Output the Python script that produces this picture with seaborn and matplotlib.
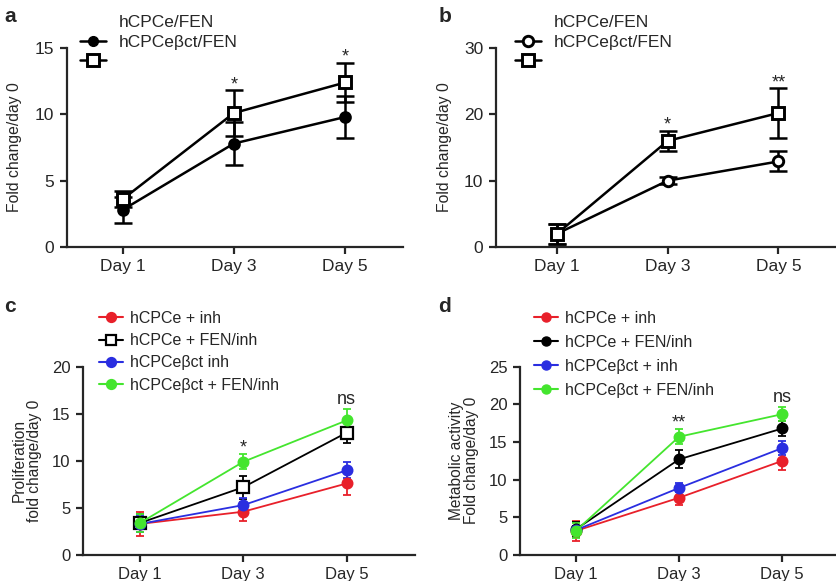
import matplotlib
matplotlib.use("Agg")
import matplotlib.pyplot as plt
from matplotlib.lines import Line2D
import seaborn as sns
import pandas as pd

sns.set_style("ticks")
plt.rcParams["font.family"] = ["Liberation Sans", "DejaVu Sans"]

days = ["Day 1", "Day 3", "Day 5"]

# painel a
a_e_mean = [2.8, 7.8, 9.8]
a_e_err = [1.0, 1.6, 1.55]
a_b_mean = [3.6, 10.1, 12.4]
a_b_err = [0.6, 1.7, 1.5]
a_stars = ["", "*", "*"]

# painel b
b_e_mean = [2.0, 10.0, 12.9]
b_e_err = [1.5, 0.5, 1.5]
b_b_mean = [2.0, 16.0, 20.2]
b_b_err = [1.5, 1.5, 3.7]
b_stars = ["", "*", "**"]

# painel c (proliferação)
c_labels = ["hCPCe + inh", "hCPCe + FEN/inh", "hCPCe\u03b2ct inh", "hCPCe\u03b2ct + FEN/inh"]
c_mean = [[3.3, 4.6, 7.6], [3.4, 7.2, 13.0], [3.3, 5.3, 9.0], [3.4, 9.9, 14.3]]
c_err = [[1.3, 1.0, 1.2], [1.0, 1.2, 1.1], [0.9, 0.8, 0.85], [1.0, 0.8, 1.2]]
c_stars = ["", "*", "ns"]

# painel d (atividade metabólica)
d_labels = ["hCPCe + inh", "hCPCe + FEN/inh", "hCPCe\u03b2ct + inh", "hCPCe\u03b2ct + FEN/inh"]
d_mean = [[3.2, 7.6, 12.5], [3.4, 12.7, 16.8], [3.3, 8.9, 14.2], [3.2, 15.7, 18.7]]
d_err = [[1.3, 1.0, 1.2], [1.0, 1.2, 1.0], [0.6, 0.6, 0.9], [1.0, 1.0, 0.9]]
d_stars = ["", "**", "ns"]

RED, BLUE, GREEN = "#e8202a", "#2a2ee0", "#44e52e"

fig = plt.figure(figsize=(8.37, 5.81), dpi=100)
W, H = 837, 581


def add_ax(l, r, top, bot):
    return fig.add_axes([l / W, 1 - bot / H, (r - l) / W, (bot - top) / H])


def style(ax, ylim, yticks, xlim, fs=12.5):
    ax.set_xlim(*xlim)
    ax.set_ylim(*ylim)
    ax.set_yticks(yticks)
    ax.set_xticks(range(len(days)))
    ax.set_xticklabels(days)
    sns.despine(ax=ax)
    for s in ["left", "bottom"]:
        ax.spines[s].set_linewidth(1.6)
    ax.tick_params(width=1.6, length=5, labelsize=fs, pad=4)
    ax.set_xlabel("")


def draw(ax, means, errs, labels, colors, markers, mfc, ms, lw, cap):
    for m, e, lab, col, mk, fc, s in zip(means, errs, labels, colors, markers, mfc, ms):
        df = pd.DataFrame({"x": range(len(days)), "y": m})
        ax.errorbar(df["x"], df["y"], yerr=e, fmt="none", ecolor=col,
                    elinewidth=lw, capsize=cap, capthick=lw, zorder=2)
        sns.lineplot(data=df, x="x", y="y", ax=ax, color=col, lw=lw, marker=mk,
                     markersize=s, markerfacecolor=fc, markeredgecolor=col,
                     markeredgewidth=lw + 0.3, zorder=3, label=lab)
    if ax.get_legend():
        ax.get_legend().remove()
    ax.set_ylabel("")


def stars(ax, means, errs, texts, fs=13):
    for i, t in enumerate(texts):
        if not t:
            continue
        top = max(m[i] + e[i] for m, e in zip(means, errs))
        off = 1 if "*" in t else 4
        ax.annotate(t, (i, top), xytext=(0, off), textcoords="offset points",
                    ha="center", va="baseline", fontsize=fs)


# a
ax = add_ax(67, 403, 48, 247)
draw(ax, [a_e_mean, a_b_mean], [a_e_err, a_b_err], ["e", "b"], ["black", "black"],
     ["o", "s"], ["black", "white"], [7, 8.5], 1.8, 6.5)
style(ax, (0, 15), [0, 5, 10, 15], (-0.5, 2.52))
ax.set_ylabel("Fold change/day 0", fontsize=11.3, labelpad=9)
stars(ax, [a_e_mean, a_b_mean], [a_e_err, a_b_err], a_stars)
ha = [Line2D([], [], ls="none"),
      Line2D([], [], color="black", lw=1.8, marker="o", ms=7),
      Line2D([], [], color="black", lw=1.8, marker="s", ms=8.5, mfc="white", mew=2.1)]
ax.legend(ha, ["hCPCe/FEN", "hCPCe\u03b2ct/FEN", ""], loc="upper left",
          bbox_to_anchor=(80 / W, 1 - 15 / H), bbox_transform=fig.transFigure,
          frameon=False, fontsize=12.5, handlelength=1.5, handletextpad=0.75,
          labelspacing=0.25, borderpad=0, borderaxespad=0)

# b
ax = add_ax(496, 835, 48, 247)
draw(ax, [b_e_mean, b_b_mean], [b_e_err, b_b_err], ["e", "b"], ["black", "black"],
     ["o", "s"], ["white", "white"], [7.5, 8.5], 1.8, 6.5)
style(ax, (0, 30), [0, 10, 20, 30], (-0.55, 2.51))
ax.set_ylabel("Fold change/day 0", fontsize=11.3, labelpad=9)
stars(ax, [b_e_mean, b_b_mean], [b_e_err, b_b_err], b_stars)
hb = [Line2D([], [], ls="none"),
      Line2D([], [], color="black", lw=1.8, marker="o", ms=7.5, mfc="white", mew=2.1),
      Line2D([], [], color="black", lw=1.8, marker="s", ms=8.5, mfc="white", mew=2.1)]
ax.legend(hb, ["hCPCe/FEN", "hCPCe\u03b2ct/FEN", ""], loc="upper left",
          bbox_to_anchor=(515 / W, 1 - 15 / H), bbox_transform=fig.transFigure,
          frameon=False, fontsize=12.5, handlelength=1.5, handletextpad=0.75,
          labelspacing=0.25, borderpad=0, borderaxespad=0)

cols4 = [RED, "black", BLUE, GREEN]

# c
ax = add_ax(83, 415, 366.7, 555)
draw(ax, c_mean, c_err, c_labels, cols4, ["o", "s", "o", "o"],
     [RED, "white", BLUE, GREEN], [7, 8.5, 7, 7], 1.3, 3)
style(ax, (0, 20), [0, 5, 10, 15, 20], (-0.55, 2.66), fs=12)
ax.set_ylabel("Proliferation\nfold change/day 0", fontsize=11.2, labelpad=7, linespacing=1.0)
stars(ax, c_mean, c_err, c_stars)
hc = [Line2D([], [], color=c, lw=1.5, marker=m, ms=6.5, mfc=f, mew=1.6)
      for c, m, f in zip(cols4, ["o", "s", "o", "o"], [RED, "white", BLUE, GREEN])]
ax.legend(hc, c_labels, loc="upper left", bbox_to_anchor=(99 / W, 1 - 311 / H),
          bbox_transform=fig.transFigure, frameon=False, fontsize=11.5,
          handlelength=1.5, handletextpad=0.45, labelspacing=0.45,
          borderpad=0, borderaxespad=0)

# d
ax = add_ax(520, 836, 366.7, 555)
draw(ax, d_mean, d_err, d_labels, cols4, ["o", "o", "o", "o"],
     cols4, [7, 7, 7, 7], 1.3, 3)
style(ax, (0, 25), [0, 5, 10, 15, 20, 25], (-0.54, 2.52), fs=12)
ax.set_ylabel("Metabolic activity\nFold change/day 0", fontsize=11.2, labelpad=7, linespacing=1.0)
stars(ax, d_mean, d_err, d_stars)
hd = [Line2D([], [], color=c, lw=1.5, marker="o", ms=6.5) for c in cols4]
ax.legend(hd, d_labels, loc="upper left", bbox_to_anchor=(534 / W, 1 - 311 / H),
          bbox_transform=fig.transFigure, frameon=False, fontsize=11.5,
          handlelength=1.5, handletextpad=0.45, labelspacing=0.56,
          borderpad=0, borderaxespad=0)

for lab, x, y in [("a", 10, 17), ("b", 445, 17), ("c", 10, 307), ("d", 445, 307)]:
    fig.text(x / W, 1 - y / H, lab, fontsize=15, fontweight="bold", ha="center", va="center")

fig.savefig("out.png", dpi=100)
